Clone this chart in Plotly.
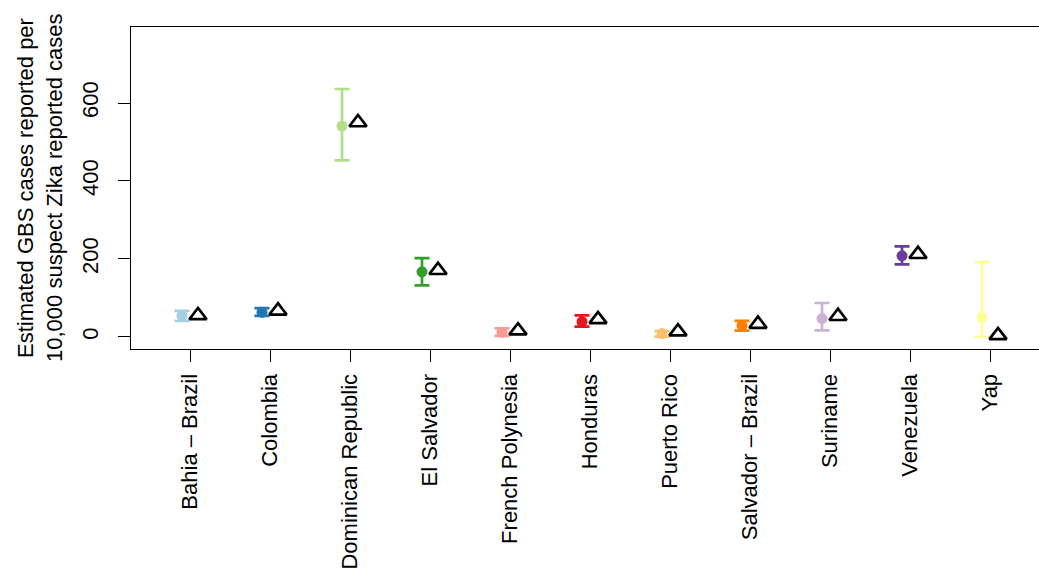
import plotly.graph_objects as go

countries = ["Bahia – Brazil", "Colombia", "Dominican Republic", "El Salvador",
             "French Polynesia", "Honduras", "Puerto Rico", "Salvador – Brazil",
             "Suriname", "Venezuela", "Yap"]
estimate = [55, 63, 541, 167, 12, 39, 8.5, 29, 47, 208, 50]
lower = [41, 54, 453, 132, 2.5, 26.5, 1, 16, 17, 186, 0]
upper = [67, 74, 636, 202, 22, 55, 15, 41, 87, 232, 192]
reported = [55, 67, 550, 171, 16, 45, 13.5, 33, 53, 212, 4]
colors = ["#A6CEE3", "#1F78B4", "#B2DF8A", "#33A02C", "#FB9A99", "#E31A1C",
          "#FDBF6F", "#FF7F00", "#CAB2D6", "#6A3D9A", "#FFFF99"]
yticks = [0, 200, 400, 600]

font = "Liberation Sans, Arial, Helvetica, sans-serif"
fig = go.Figure()
for i, c in enumerate(countries):
    x = i + 1
    fig.add_trace(go.Scatter(
        x=[x - 0.1], y=[estimate[i]], mode="markers",
        marker=dict(color=colors[i], size=11, symbol="circle"),
        error_y=dict(type="data", symmetric=False,
                     array=[upper[i] - estimate[i]],
                     arrayminus=[estimate[i] - lower[i]],
                     color=colors[i], thickness=2.7, width=7.5),
        showlegend=False, hoverinfo="skip"))
fig.add_trace(go.Scatter(
    x=[i + 1 + 0.1 for i in range(len(countries))], y=reported, mode="markers",
    marker=dict(symbol="triangle-up-open", size=15, color="black",
                line=dict(color="black", width=2.7)),
    showlegend=False, hoverinfo="skip"))

fig.update_layout(
    width=1039, height=577,
    margin=dict(l=131, r=0, t=27, b=228),
    plot_bgcolor="white", paper_bgcolor="white",
    font=dict(family=font, size=22, color="black"),
    xaxis=dict(range=[0.2625, 11.6125], tickmode="array",
               tickvals=list(range(1, len(countries) + 1)), ticktext=countries,
               tickangle=-90, ticks="outside", ticklen=12, tickwidth=1.2,
               tickcolor="black", showline=True, linecolor="black", linewidth=1.2,
               mirror=True, showgrid=False, zeroline=False, ticklabelstandoff=3),
    yaxis=dict(range=[-31, 795], tickmode="array", tickvals=yticks,
               ticktext=[str(v) for v in yticks], tickangle=-90,
               ticks="outside", ticklen=12, tickwidth=1.2, tickcolor="black",
               showline=True, linecolor="black", linewidth=1.2, mirror=False,
               showgrid=False, zeroline=False, ticklabelstandoff=11),
)
fig.add_annotation(text="Estimated GBS cases reported per", textangle=-90,
                   xref="paper", yref="paper", x=0, y=0.5, xanchor="center",
                   yanchor="middle", xshift=-106, showarrow=False,
                   font=dict(size=22))
fig.add_annotation(text="10,000 suspect Zika reported cases", textangle=-90,
                   xref="paper", yref="paper", x=0, y=0.5, xanchor="center",
                   yanchor="middle", xshift=-77, showarrow=False,
                   font=dict(size=22))
fig.write_html("out.html")
